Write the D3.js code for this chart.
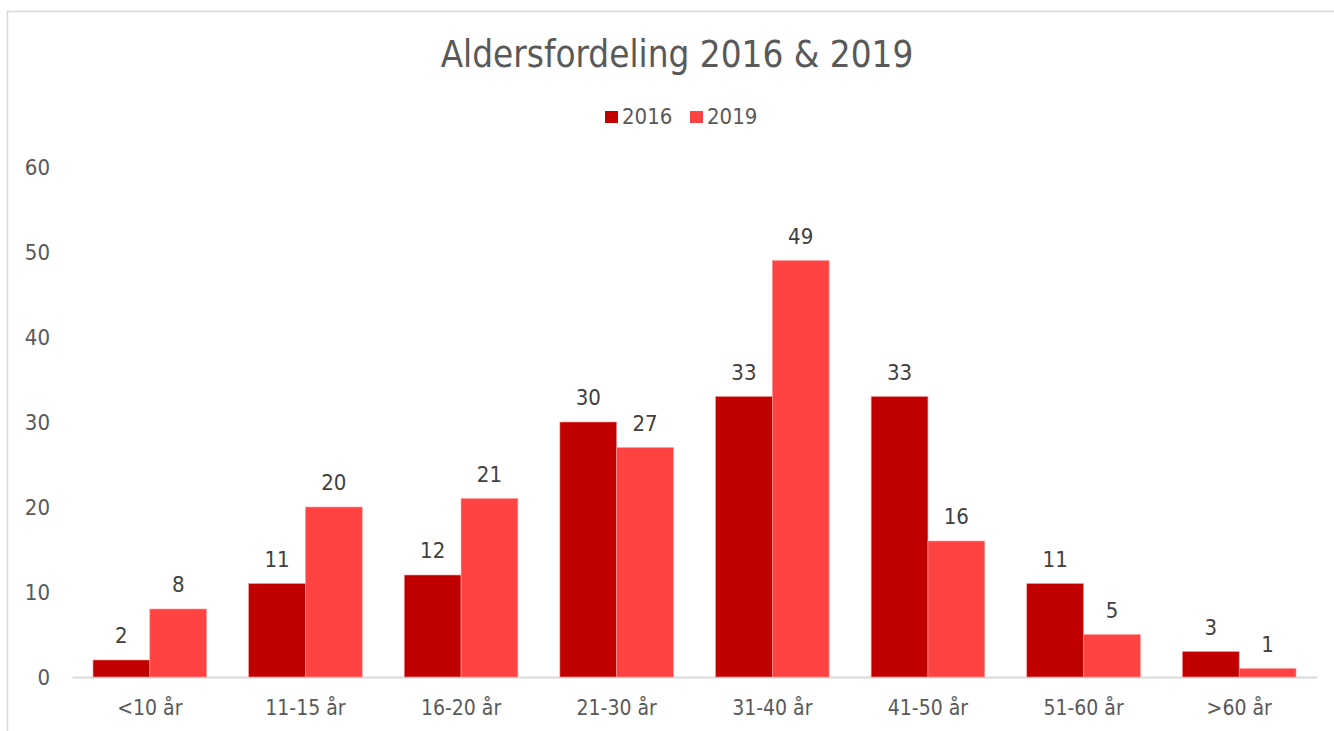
<!DOCTYPE html>
<html>
<head>
<meta charset="utf-8">
<script src="https://cdn.jsdelivr.net/npm/d3@7"></script>
<style>
  body { margin: 0; background: #fff; }
  svg text { font-family: "DejaVu Sans Condensed", "DejaVu Sans", sans-serif; font-stretch: condensed; }
</style>
</head>
<body>
<svg id="chartSVG" width="1334" height="731"></svg>
<script>
// categories and series values
const categories = ["<10 år", "11-15 år", "16-20 år", "21-30 år", "31-40 år", "41-50 år", "51-60 år", ">60 år"];
const seriesNames = ["2016", "2019"];
const values2016 = [2, 11, 12, 30, 33, 33, 11, 3];
const values2019 = [8, 20, 21, 27, 49, 16, 5, 1];
const yTicks = [0, 10, 20, 30, 40, 50, 60];

const colours = ["#c00000", "#ff4343"];

var svg = d3.select("#chartSVG");

// outer frame
svg.append("rect")
    .attr("x", 7.5).attr("y", 11.5)
    .attr("width", 1340).attr("height", 740)
    .attr("fill", "none")
    .attr("stroke", "#d9d9d9")
    .attr("stroke-width", 1.5);

/* ---------- Scales ---------- */
var xScale = d3.scaleBand()
    .domain(categories)
    .range([72, 1317])
    .paddingInner(0.27)
    .paddingOuter(0.135);
var innerScale = d3.scaleBand()
    .domain(seriesNames)
    .range([0, xScale.bandwidth()]);
var yScale = d3.scaleLinear()
    .domain([0, 60])
    .range([677, 167]);

/* ---------- Title & Legend ---------- */
svg.append("text")
    .text("Aldersfordeling 2016 & 2019")
    .attr("x", 677).attr("y", 67)
    .attr("text-anchor", "middle")
    .attr("font-size", 36.5)
    .attr("fill", "#595959");

var legend = svg.append("g");
var legendX = [605, 690];
seriesNames.forEach((name, i) => {
    legend.append("rect")
        .attr("x", legendX[i]).attr("y", 111)
        .attr("width", 13).attr("height", 12)
        .attr("fill", colours[i]);
    legend.append("text")
        .text(name)
        .attr("x", legendX[i] + 17).attr("y", 124)
        .attr("font-size", 22)
        .attr("fill", "#595959");
});

/* ---------- Axes ---------- */
var yAxis = d3.axisLeft(yScale).tickValues(yTicks).tickSize(0).tickPadding(0);
var yG = svg.append("g")
    .attr("transform", "translate(50,0)")
    .call(yAxis);
yG.select(".domain").remove();
yG.selectAll("text")
    .attr("font-size", 22)
    .attr("fill", "#595959");

var xAxis = d3.axisBottom(xScale).tickSize(0).tickPadding(23);
var xG = svg.append("g")
    .attr("transform", "translate(0,677)")
    .call(xAxis);
xG.select(".domain")
    .attr("stroke", "#d9d9d9")
    .attr("stroke-width", 2);
xG.selectAll("text")
    .attr("font-size", 21)
    .attr("fill", "#595959");
svg.selectAll("g").attr("font-family", null);

/* ---------- Bars ---------- */
var allSeries = [values2016, values2019];
allSeries.forEach((vals, s) => {
    var g = svg.append("g");
    for (let i = 0; i < categories.length; i++) {
        var x = xScale(categories[i]) + innerScale(seriesNames[s]);
        g.append("rect")
            .attr("x", x)
            .attr("y", yScale(vals[i]))
            .attr("width", innerScale.bandwidth())
            .attr("height", yScale(0) - yScale(vals[i]))
            .attr("fill", colours[s])
            .attr("stroke", "#ff9a9a")
            .attr("stroke-width", 0.6);
        g.append("text")
            .text(vals[i])
            .attr("x", x + innerScale.bandwidth() / 2)
            .attr("y", yScale(vals[i]) - 17)
            .attr("text-anchor", "middle")
            .attr("font-size", 22)
            .attr("fill", "#404040");
    }
});
</script>
</body>
</html>
